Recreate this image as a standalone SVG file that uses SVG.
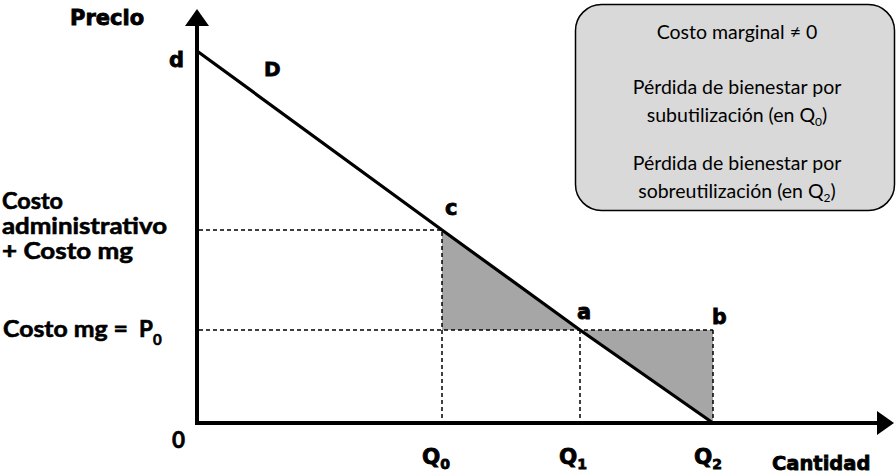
<svg xmlns="http://www.w3.org/2000/svg" width="896" height="476" viewBox="0 0 896 476">
<style>
.lbl{font-family:"DejaVu Sans",Verdana,sans-serif;font-weight:bold;fill:#000;stroke:#000;stroke-width:0.8}
.side{font-family:Lato,"Liberation Sans",sans-serif;font-weight:bold;font-size:22.5px;fill:#000;stroke:#000;stroke-width:0.6}
.box{font-family:Lato,"Liberation Sans",sans-serif;font-size:19.5px;fill:#000;text-anchor:middle}
.dash{stroke:#000;stroke-width:1.5;stroke-dasharray:4 3;fill:none}
.axis{stroke:#000;stroke-width:4;fill:none}
</style>
<rect width="896" height="476" fill="#fff"/>
<g id="areas">
  <polygon points="442,230 442,330 580,330" fill="#a6a6a6"/>
  <polygon points="580,330 713,330 713,423" fill="#a6a6a6"/>
</g>
<g id="connectors">
  <path class="dash" d="M199,230 H442 V423"/>
  <path class="dash" d="M199,330 H713"/>
  <path class="dash" d="M580,330 V423"/>
  <path class="dash" d="M713,330 V423" stroke="#555"/>
  <path class="axis" d="M197,24 V423 H878"/>
  <polygon points="197,9 185,26 209,26" fill="#000"/>
  <polygon points="894,423 877,411 877,435" fill="#000"/>
  <polyline points="197,51 442,230 580,330 713,423" fill="none" stroke="#000" stroke-width="3.2"/>
</g>
<g id="note">
  <rect x="575.5" y="4.5" width="319" height="206" rx="26" fill="#d9d9d9" stroke="#000" stroke-width="1.5"/>
  <text class="box" x="737" y="39">Costo marginal ≠ 0</text>
  <text class="box" x="737" y="94">Pérdida de bienestar por</text>
  <text class="box" x="737" y="122">subutilización (en Q<tspan font-size="12" dy="4">0</tspan><tspan dy="-4">)</tspan></text>
  <text class="box" x="737" y="170">Pérdida de bienestar por</text>
  <text class="box" x="737" y="198">sobreutilización (en Q<tspan font-size="12" dy="4">2</tspan><tspan dy="-4">)</tspan></text>
</g>
<g id="axis-labels">
  <text class="lbl" x="70" y="25" font-size="21">Precio</text>
  <text class="lbl" x="772" y="470" font-size="19.5">Cantidad</text>
  <text class="side" x="172" y="448" font-size="25">0</text>
</g>
<g id="point-labels">
  <text class="lbl" x="169" y="67" font-size="21">d</text>
  <text class="lbl" x="264" y="76" font-size="20">D</text>
  <text class="lbl" x="445" y="215" font-size="21">c</text>
  <text class="lbl" x="577" y="319" font-size="21">a</text>
  <text class="lbl" x="712" y="324" font-size="20.5">b</text>
</g>
<g id="q-labels">
  <text class="lbl" x="422" y="464" font-size="21.5">Q<tspan font-size="14" dy="5">0</tspan></text>
  <text class="lbl" x="559" y="464" font-size="21.5">Q<tspan font-size="14" dy="5">1</tspan></text>
  <text class="lbl" x="694" y="464" font-size="21.5">Q<tspan font-size="14" dy="5">2</tspan></text>
</g>
<g id="price-labels">
  <text class="side" x="2" y="209" textLength="61" lengthAdjust="spacingAndGlyphs">Costo</text>
  <text class="side" x="2" y="234" textLength="165" lengthAdjust="spacingAndGlyphs">administrativo</text>
  <text class="side" x="2" y="259" textLength="131" lengthAdjust="spacingAndGlyphs">+ Costo mg</text>
  <text class="side" y="337"><tspan x="3" textLength="125" lengthAdjust="spacingAndGlyphs">Costo mg =</tspan><tspan x="139">P</tspan><tspan font-size="15" dy="8">0</tspan></text>
</g>
</svg>
